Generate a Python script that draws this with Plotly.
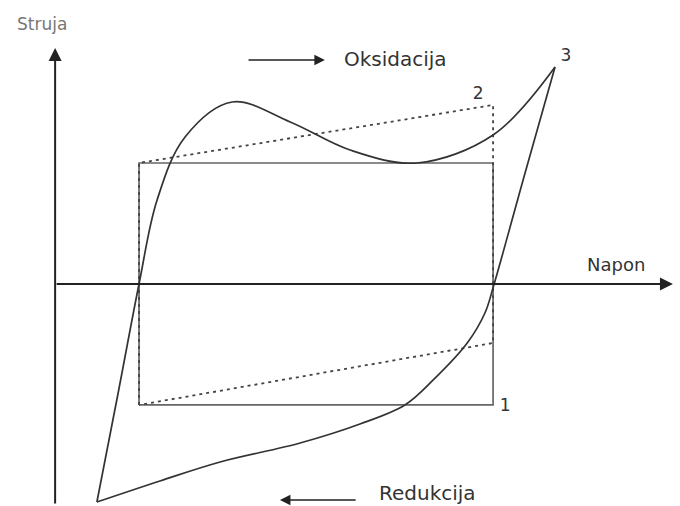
import plotly.graph_objects as go

# Voltage (V) and current (I) in normalised units: the solid rectangle spans V 0..1, I -1..1
# forward (oxidation) sweep, from the vertex at low potential up to point 3
fwd_V = [-0.119, -0.059, 0.0, 0.051, 0.130, 0.263, 0.427, 0.596, 0.785, 1.000, 1.175]
fwd_I = [-1.802, -0.901, 0.0, 0.694, 1.215, 1.504, 1.339, 1.107, 1.000, 1.231, 1.793]
# reverse (reduction) sweep, from point 3 back to the low-potential vertex
rev_V = [1.175, 1.088, 1.003, 0.977, 0.927, 0.831, 0.751, 0.624, 0.455, 0.229, 0.059, -0.119]
rev_I = [1.793, 0.893, 0.0, -0.240, -0.488, -0.793, -1.000, -1.157, -1.314, -1.471, -1.628, -1.802]

rect_V = [0, 0, 1, 1, 0]
rect_I = [-1, 1, 1, -1, -1]

dash_V = [0, 0, 1, 1, 0]
dash_I = [-1, 1, 1.479, -0.488, -1]

point_labels = ["1", "2", "3"]
point_V = [1.034, 0.958, 1.206]
point_I = [-1.017, 1.562, 1.876]

axis_V0 = -0.237
axis_Vmax = 1.508
axis_Imin = -1.826
axis_Imax = 1.95

X_RANGE = [-0.3927, 1.528]
Y_RANGE = [-1.835, 2.347]

line_col = "#333333"
text_col = "#333333"
font_fam = "DejaVu Sans"

fig = go.Figure()

fig.add_trace(go.Scatter(x=rect_V, y=rect_I, mode="lines",
                         line=dict(color="#666666", width=1.7), hoverinfo="skip"))
fig.add_trace(go.Scatter(x=dash_V, y=dash_I, mode="lines",
                         line=dict(color="#444444", width=1.8, dash="3px,4px"), hoverinfo="skip"))
fig.add_trace(go.Scatter(x=fwd_V, y=fwd_I, mode="lines",
                         line=dict(color=line_col, width=1.7, shape="spline", smoothing=1.0),
                         hoverinfo="skip"))
fig.add_trace(go.Scatter(x=rev_V, y=rev_I, mode="lines",
                         line=dict(color=line_col, width=1.7, shape="spline", smoothing=1.0),
                         hoverinfo="skip"))

fig.add_trace(go.Scatter(x=point_V, y=point_I, mode="text", text=point_labels,
                         textfont=dict(family=font_fam, size=17, color=text_col),
                         hoverinfo="skip"))

# axes with arrows
fig.add_annotation(x=axis_V0, y=axis_Imax, ax=axis_V0, ay=axis_Imin,
                   xref="x", yref="y", axref="x", ayref="y", text="",
                   showarrow=True, arrowhead=2, arrowsize=1.3, arrowwidth=2, arrowcolor="#222222")
fig.add_annotation(x=axis_Vmax, y=0, ax=axis_V0, ay=0,
                   xref="x", yref="y", axref="x", ayref="y", text="",
                   showarrow=True, arrowhead=2, arrowsize=1.3, arrowwidth=2, arrowcolor="#222222")

# sweep direction arrows
fig.add_annotation(x=0.525, y=1.851, ax=0.305, ay=1.851,
                   xref="x", yref="y", axref="x", ayref="y", text="",
                   showarrow=True, arrowhead=2, arrowsize=1.4, arrowwidth=1.5, arrowcolor="#222222")
fig.add_annotation(x=0.398, y=-1.785, ax=0.616, ay=-1.785,
                   xref="x", yref="y", axref="x", ayref="y", text="",
                   showarrow=True, arrowhead=2, arrowsize=1.4, arrowwidth=1.5, arrowcolor="#222222")

labels = [("Struja", -0.274, 2.149, 17, "#777777"),
          ("Napon", 1.347, 0.165, 18, text_col),
          ("Oksidacija", 0.723, 1.86, 20, text_col),
          ("Redukcija", 0.814, -1.727, 20, text_col)]
for t, xv, yv, sz, col in labels:
    fig.add_annotation(x=xv, y=yv, xref="x", yref="y", text=t, showarrow=False,
                       font=dict(family=font_fam, size=sz, color=col))

fig.update_xaxes(range=X_RANGE, visible=False, fixedrange=True)
fig.update_yaxes(range=Y_RANGE, visible=False, fixedrange=True)
fig.update_layout(width=680, height=506, margin=dict(l=0, r=0, t=0, b=0),
                  paper_bgcolor="white", plot_bgcolor="white", showlegend=False)

fig.write_html("out.html", config={"displayModeBar": False},
               post_script="document.body.style.margin='0';document.body.style.overflow='hidden';")
